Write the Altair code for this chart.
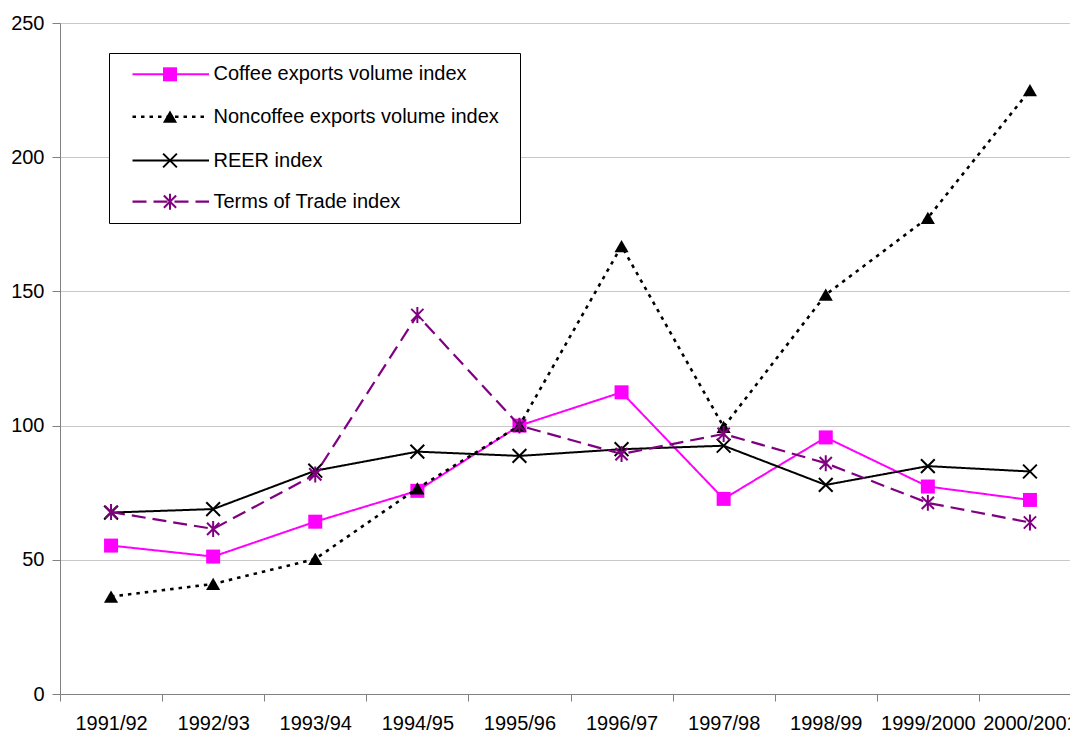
import altair as alt
import pandas as pd

periods = ["1991/92", "1992/93", "1993/94", "1994/95", "1995/96",
           "1996/97", "1997/98", "1998/99", "1999/2000", "2000/2001"]
coffee = [55.3, 51.2, 64.2, 75.7, 100.0, 112.4, 72.7, 95.6, 77.3, 72.3]
noncoffee = [36.3, 41.0, 50.3, 76.6, 100.0, 166.9, 99.5, 148.8, 177.4, 225.0]
reer = [67.6, 68.9, 83.2, 90.3, 88.7, 91.2, 92.5, 77.9, 84.9, 82.9]
tot = [67.8, 61.5, 81.8, 141.2, 100.0, 89.4, 96.9, 86.0, 71.2, 63.9]

names = ["Coffee exports volume index", "Noncoffee exports volume index",
         "REER index", "Terms of Trade index"]
values = [coffee, noncoffee, reer, tot]
y_ticks = [0, 50, 100, 150, 200, 250]

FONT = "Liberation Sans"
FS = 20
X_PATH = "M-1,-1L1,1M-1,1L1,-1"
AST_PATH = "M-1,-1L1,1M-1,1L1,-1M0,-1.3L0,1.3"

styles = [
    dict(color="#FF00FF", dash=[1, 0], shape="square", size=196, filled=True, sw=2),
    dict(color="#000000", dash=[3.5, 5], shape="triangle-up", size=200, filled=True, sw=2.6),
    dict(color="#000000", dash=[1, 0], shape=X_PATH, size=190, filled=False, sw=2),
    dict(color="#800080", dash=[14, 7], shape=AST_PATH, size=150, filled=False, sw=2.2),
]

rows = []
for n, vals in zip(names, values):
    for p, v in zip(periods, vals):
        rows.append({"period": p, "series": n, "value": v})
df = pd.DataFrame(rows)

x_enc = alt.X(
    "period:N", sort=periods,
    scale=alt.Scale(range=[0, 1021], paddingInner=0, paddingOuter=0),
    axis=alt.Axis(title=None, labelAngle=0, tickBand="extent", tickSize=7,
                  labelPadding=12, labelFontSize=FS, labelFont=FONT,
                  labelColor="black", domainColor="#808080", tickColor="#808080",
                  grid=False),
)
y_enc = alt.Y(
    "value:Q",
    scale=alt.Scale(domain=[0, 250], nice=False, zero=True),
    axis=alt.Axis(title=None, values=y_ticks, tickSize=8, labelPadding=8,
                  labelFontSize=FS, labelFont=FONT, labelColor="black",
                  domainColor="#808080", tickColor="#808080",
                  grid=True, gridColor="#c8c8c8", gridWidth=1),
)

layers = []
for n, st in zip(names, styles):
    b = alt.Chart(df).transform_filter(alt.datum.series == n)
    line = b.mark_line(color=st["color"], strokeWidth=st["sw"],
                       strokeDash=st["dash"]).encode(x=x_enc, y=y_enc)
    pts = b.mark_point(shape=st["shape"], size=st["size"],
                       filled=st["filled"], color=st["color"],
                       strokeWidth=2, opacity=1).encode(x=x_enc, y=y_enc)
    layers += [line, pts]

# manual legend (box, sample lines, markers, labels)
one = pd.DataFrame({"k": [0]})
legend_box = alt.Chart(one).mark_rect(fill="white", stroke="#000000",
                                      strokeWidth=1).encode(
    x=alt.value(49.5), x2=alt.value(460.5), y=alt.value(30.5), y2=alt.value(200.5))
layers.append(legend_box)

row_y = [51.3, 93.7, 137.5, 178.7]
for n, st, ry in zip(names, styles, row_y):
    ldf = pd.DataFrame({"label": [n]})
    lc = alt.Chart(ldf)
    layers.append(lc.mark_rule(color=st["color"], strokeWidth=st["sw"],
                               strokeDash=st["dash"]).encode(
        x=alt.value(72.5), x2=alt.value(149), y=alt.value(ry)))
    layers.append(lc.mark_point(shape=st["shape"], size=st["size"],
                                filled=st["filled"], color=st["color"],
                                strokeWidth=2, opacity=1).encode(
        x=alt.value(110), y=alt.value(ry)))
    layers.append(lc.mark_text(align="left", baseline="middle", fontSize=FS,
                               font=FONT, color="black").encode(
        x=alt.value(153.5), y=alt.value(ry), text="label:N"))

chart = alt.layer(*layers).properties(
    width=1010, height=671,
    autosize=alt.AutoSizeParams(type="none"),
    padding={"left": 60, "top": 23, "right": 0, "bottom": 38},
    background="white",
).configure_view(stroke=None)

chart.save("out.html", embed_options={"renderer": "svg", "actions": False})
